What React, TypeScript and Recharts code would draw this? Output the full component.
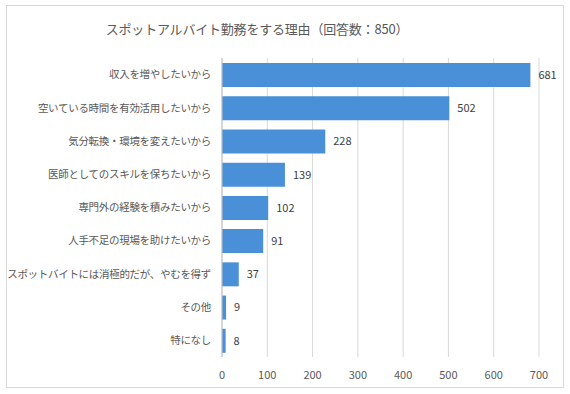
import { BarChart, Bar, XAxis, YAxis, CartesianGrid, LabelList } from "recharts";

const categories = [
  "収入を増やしたいから",
  "空いている時間を有効活用したいから",
  "気分転換・環境を変えたいから",
  "医師としてのスキルを保ちたいから",
  "専門外の経験を積みたいから",
  "人手不足の現場を助けたいから",
  "スポットバイトには消極的だが、やむを得ず",
  "その他",
  "特になし",
];

const counts = [681, 502, 228, 139, 102, 91, 37, 9, 8];

const xTicks = [0, 100, 200, 300, 400, 500, 600, 700];

const title = "スポットアルバイト勤務をする理由（回答数：850）";

const data = categories.map((name, i) => ({ name, count: counts[i] }));

const font = "'Noto Sans CJK JP', 'Noto Sans', sans-serif";

export default function App() {
  return (
    <div
      style={{
        position: "absolute",
        left: 0,
        top: 0,
        width: 570,
        height: 394,
        background: "#fff",
        fontFamily: font,
      }}
    >
      <div
        style={{
          position: "absolute",
          left: 6,
          top: 5,
          width: 556,
          height: 381,
          border: "1px solid #d9d9d9",
        }}
      />
      <div
        style={{
          position: "absolute",
          left: 0,
          top: 19,
          width: 514,
          textAlign: "center",
          whiteSpace: "nowrap",
          fontSize: 13,
          letterSpacing: -0.2,
          color: "#595959",
        }}
      >
        {title}
      </div>
      <div style={{ position: "absolute", left: 0, top: 0 }}>
        <BarChart
          width={570}
          height={394}
          data={data}
          layout="vertical"
          margin={{ top: 58, right: 31, left: 0, bottom: 7 }}
        >
          <CartesianGrid horizontal={false} stroke="#d9d9d9" />
          <XAxis
            type="number"
            domain={[0, 700]}
            ticks={xTicks}
            height={30}
            axisLine={false}
            tickLine={false}
            tickMargin={8}
            tick={{ fontSize: 11, fill: "#595959", fontFamily: font }}
          />
          <YAxis
            type="category"
            dataKey="name"
            width={222}
            axisLine={{ stroke: "#bfbfbf" }}
            tickLine={false}
            tickSize={0}
            tickMargin={11}
            interval={0}
            tick={{ fontSize: 10.5, letterSpacing: -0.3, fill: "#595959", fontFamily: font }}
          />
          <Bar dataKey="count" fill="#4a90d9" barSize={24} isAnimationActive={false}>
            <LabelList
              dataKey="count"
              position="right"
              offset={8}
              style={{ fontSize: 11, fill: "#404040", fontFamily: font }}
            />
          </Bar>
        </BarChart>
      </div>
    </div>
  );
}
